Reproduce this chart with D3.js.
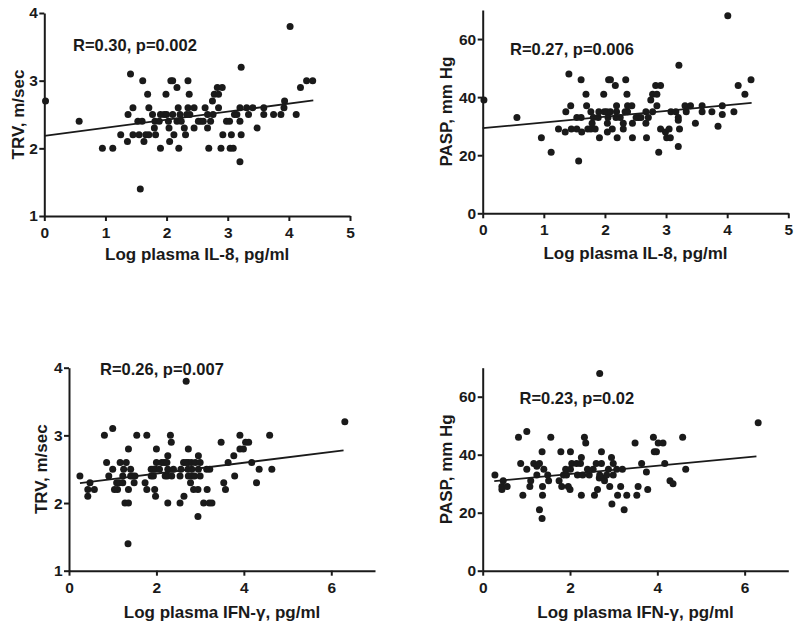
<!DOCTYPE html>
<html>
<head>
<meta charset="utf-8">
<script src="https://cdn.jsdelivr.net/npm/d3@7"></script>
<style>
  html, body { margin: 0; padding: 0; background: #fff; }
  svg { display: block; }
  text { font-family: "Liberation Sans", Arial, Helvetica, sans-serif; font-weight: bold; fill: #1a1a1a; }
</style>
</head>
<body>
<svg id="chart" width="800" height="629"></svg>
<script>
// ---------- data ----------
const il8TRV = [[0.02,2.7],[0.57,2.4],[0.95,2.0],[1.12,2.0],[1.25,2.2],[1.36,2.1],[1.37,2.5],[1.41,3.1],[1.45,2.6],[1.45,2.2],
  [1.53,2.4],[1.55,2.2],[1.57,1.4],[1.6,2.4],[1.61,3.0],[1.63,2.1],[1.66,2.2],[1.69,2.8],[1.71,2.6],[1.71,2.2],
  [1.77,2.5],[1.8,2.3],[1.81,2.4],[1.82,2.2],[1.88,2.4],[1.9,2.5],[1.9,2.0],[1.96,2.5],[1.99,2.8],[2.0,2.5],
  [2.03,2.4],[2.04,2.3],[2.05,2.1],[2.07,3.0],[2.1,3.0],[2.1,2.5],[2.12,2.2],[2.17,2.9],[2.17,2.4],[2.19,2.6],
  [2.2,2.0],[2.22,2.5],[2.24,2.4],[2.29,2.3],[2.31,2.2],[2.33,2.5],[2.35,3.0],[2.35,2.6],[2.37,2.8],[2.38,2.5],
  [2.45,2.6],[2.45,2.3],[2.52,2.4],[2.56,2.4],[2.6,2.4],[2.63,2.6],[2.67,2.3],[2.67,2.5],[2.69,2.0],[2.72,2.4],
  [2.75,2.7],[2.76,2.5],[2.78,2.8],[2.83,2.9],[2.85,2.8],[2.85,2.6],[2.91,2.9],[2.89,2.0],[2.92,2.2],[2.98,2.4],
  [3.03,2.4],[3.04,2.0],[3.06,2.2],[3.09,2.0],[3.11,2.5],[3.15,2.5],[3.2,2.6],[3.2,2.4],[3.22,3.2],[3.22,2.2],
  [3.2,1.8],[3.31,2.6],[3.34,2.5],[3.41,2.6],[3.48,2.3],[3.59,2.6],[3.59,2.5],[3.75,2.5],[3.87,2.5],[3.92,2.6],
  [3.93,2.7],[4.02,3.8],[4.12,2.5],[4.19,2.9],[4.29,3.0],[4.39,3.0]];

const il8PASP = [[0.02,39],[0.56,33],[0.96,26],[1.12,21],[1.24,29],[1.35,28],[1.36,35],[1.41,48],[1.44,37],[1.45,29],
  [1.54,29],[1.54,33],[1.57,18],[1.61,46],[1.61,33],[1.62,28],[1.69,41],[1.7,37],[1.72,29],[1.77,29],
  [1.77,35],[1.79,31],[1.81,33],[1.84,29],[1.89,33],[1.9,35],[1.91,26],[1.98,41],[1.99,35],[2.03,35],
  [2.04,28],[2.04,31],[2.05,33],[2.06,46],[2.09,46],[2.09,35],[2.12,29],[2.17,44],[2.18,33],[2.19,37],
  [2.19,35],[2.2,26],[2.25,33],[2.3,29],[2.3,31],[2.33,35],[2.34,46],[2.36,41],[2.37,37],[2.37,35],
  [2.44,37],[2.45,31],[2.45,26],[2.51,33],[2.55,33],[2.59,33],[2.67,35],[2.67,31],[2.68,26],[2.71,33],
  [2.75,39],[2.78,41],[2.78,35],[2.83,44],[2.85,41],[2.85,37],[2.88,21],[2.91,44],[2.91,29],[2.99,28],
  [3.01,26],[3.05,29],[3.07,26],[3.08,35],[3.16,35],[3.2,33],[3.2,32],[3.21,51],[3.22,29],[3.2,23],
  [3.31,37],[3.33,35],[3.4,37],[3.48,31],[3.59,37],[3.59,35],[3.75,35],[3.85,30],[3.92,37],[3.92,34],
  [4.01,68],[4.11,35],[4.18,44],[4.29,41],[4.39,46]];

const ifnTRV = [[0.25,2.4],[0.43,2.2],[0.43,2.1],[0.48,2.3],[0.58,2.2],[0.81,3.0],[0.86,2.6],[0.91,2.4],[1.0,3.1],[1.0,2.5],
  [1.04,2.2],[1.09,2.3],[1.11,2.2],[1.15,2.3],[1.17,2.6],[1.23,2.4],[1.23,2.3],[1.25,2.5],[1.28,2.0],[1.31,2.6],
  [1.36,2.8],[1.36,2.2],[1.36,2.0],[1.35,1.4],[1.41,2.5],[1.41,2.4],[1.46,2.4],[1.49,2.3],[1.51,2.4],[1.55,3.0],
  [1.74,2.3],[1.78,3.0],[1.78,2.2],[1.88,2.5],[1.88,2.4],[1.93,2.5],[1.93,2.4],[1.96,2.2],[1.98,2.5],[1.98,2.1],
  [2.0,2.8],[2.0,2.6],[2.07,2.5],[2.12,2.6],[2.18,2.6],[2.2,2.4],[2.24,2.6],[2.25,2.4],[2.26,2.7],[2.26,2.5],
  [2.26,2.0],[2.32,3.0],[2.34,2.9],[2.35,2.4],[2.39,2.5],[2.54,2.4],[2.54,2.0],[2.56,2.5],[2.62,2.6],[2.63,2.1],
  [2.68,3.8],[2.68,2.6],[2.72,2.5],[2.73,2.8],[2.73,2.6],[2.73,2.4],[2.78,2.3],[2.8,2.6],[2.81,2.5],[2.81,2.4],
  [2.85,2.2],[2.87,2.4],[2.89,2.6],[2.95,2.2],[2.95,1.8],[2.96,2.7],[2.96,2.5],[3.0,2.6],[3.0,2.4],[3.08,2.0],
  [3.15,2.5],[3.16,2.2],[3.21,2.0],[3.22,2.5],[3.27,2.0],[3.48,2.9],[3.54,2.3],[3.58,2.2],[3.64,2.6],[3.77,2.7],
  [3.79,2.4],[3.91,3.0],[3.91,2.8],[3.99,2.8],[4.04,2.9],[4.11,2.9],[4.18,2.6],[4.29,2.3],[4.35,2.5],[4.59,3.0],
  [4.64,2.5],[6.31,3.2]];

const ifnPASP = [[0.28,33],[0.44,29],[0.44,28],[0.47,31],[0.56,29],[0.82,46],[0.87,37],[0.92,26],[1.01,48],[1.01,35],
  [1.08,29],[1.1,31],[1.17,37],[1.24,36],[1.24,33],[1.3,37],[1.3,21],[1.36,41],[1.37,29],[1.37,26],
  [1.36,18],[1.4,35],[1.49,33],[1.51,31],[1.56,46],[1.75,31],[1.79,41],[1.81,29],[1.85,33],[1.9,35],
  [1.92,33],[1.96,29],[2.0,28],[2.01,41],[2.01,35],[2.04,37],[2.15,37],[2.17,33],[2.24,37],[2.26,39],
  [2.26,26],[2.29,33],[2.33,46],[2.36,44],[2.4,35],[2.44,33],[2.53,35],[2.56,26],[2.6,37],[2.63,28],
  [2.67,32],[2.68,68],[2.68,33],[2.72,41],[2.72,37],[2.78,32],[2.79,31],[2.84,33],[2.88,35],[2.91,29],
  [2.96,23],[2.95,39],[2.99,37],[2.99,33],[3.07,35],[3.09,26],[3.16,29],[3.2,35],[3.24,21],[3.3,26],
  [3.49,44],[3.53,26],[3.56,29],[3.64,37],[3.75,34],[3.78,28],[3.91,46],[3.93,41],[3.98,41],[4.02,44],
  [4.13,44],[4.17,37],[4.29,31],[4.36,30],[4.58,46],[4.65,35],[6.31,51]];

// regression line end points
const fitIL8TRV   = [[0, 2.185], [4.40, 2.708]];
const fitIL8PASP  = [[0, 29.3], [4.40, 38.05]];
const fitIFNTRV   = [[0.25, 2.295], [6.28, 2.778]];
const fitIFNPASP  = [[0.265, 30.9], [6.27, 39.4]];

// ticks and labels
const ticksIL8 = [0, 1, 2, 3, 4, 5];
const ticksIFN = [0, 2, 4, 6];
const ticksTRV = [1, 2, 3, 4];
const ticksPASP = [0, 20, 40, 60];
const titleIL8 = "Log plasma IL-8, pg/ml";
const titleIFN = "Log plasma IFN-\u03b3, pg/ml";
const titleTRV = "TRV, m/sec";
const titlePASP = "PASP, mm Hg";
const statLabels = ["R=0.30, p=0.002", "R=0.27, p=0.006", "R=0.26, p=0.007", "R=0.23, p=0.02"];

// ---------- layout ----------
const panels = [
  { data: il8TRV, fit: fitIL8TRV, xDom: [0, 5], yDom: [1, 4], xTicks: ticksIL8, yTicks: ticksTRV,
    xr: [44.3, 350], yr: [216, 13], xTitle: titleIL8, yTitle: titleTRV, yTitleX: 23.5, xTitleY: 260,
    stat: statLabels[0], statX: 73, statY: 51 },
  { data: il8PASP, fit: fitIL8PASP, xDom: [0, 5], yDom: [0, 70], xTicks: ticksIL8, yTicks: ticksPASP,
    xr: [482.7, 788.3], yr: [213.3, 10], xTitle: titleIL8, yTitle: titlePASP, yTitleX: 452, xTitleY: 259,
    stat: statLabels[1], statX: 510, statY: 54.5 },
  { data: ifnTRV, fit: fitIFNTRV, xDom: [0, 7], yDom: [1, 4], xTicks: ticksIFN, yTicks: ticksTRV,
    xr: [69, 375], yr: [570.7, 367.7], xTitle: titleIFN, yTitle: titleTRV, yTitleX: 46.5, xTitleY: 618,
    stat: statLabels[2], statX: 100, statY: 375 },
  { data: ifnPASP, fit: fitIFNPASP, xDom: [0, 7], yDom: [0, 70], xTicks: ticksIFN, yTicks: ticksPASP,
    xr: [482.7, 788.3], yr: [570.7, 367.7], xTitle: titleIFN, yTitle: titlePASP, yTitleX: 452, xTitleY: 618,
    stat: statLabels[3], statX: 519.5, statY: 404 }
];

const svg = d3.select("#chart");

panels.forEach(p => {
  const x = d3.scaleLinear().domain(p.xDom).range(p.xr);
  const y = d3.scaleLinear().domain(p.yDom).range(p.yr);
  const g = svg.append("g");

  // axes
  const xAxis = d3.axisBottom(x).tickValues(p.xTicks).tickFormat(d3.format("d"))
    .tickSize(5).tickSizeOuter(0).tickPadding(6);
  const yAxis = d3.axisLeft(y).tickValues(p.yTicks).tickFormat(d3.format("d"))
    .tickSize(5).tickSizeOuter(0).tickPadding(1.5);

  const gx = g.append("g").attr("transform", `translate(0,${p.yr[0]})`).call(xAxis);
  const gy = g.append("g").attr("transform", `translate(${p.xr[0]},0)`).call(yAxis);
  [gx, gy].forEach(a => {
    a.select(".domain").attr("stroke", "#1a1a1a").attr("stroke-width", 2);
    a.selectAll(".tick line").attr("stroke", "#1a1a1a").attr("stroke-width", 2);
    a.selectAll(".tick text").attr("font-size", 15.5).attr("font-weight", "bold")
      .attr("font-family", "'Liberation Sans', Arial, sans-serif").attr("fill", "#1a1a1a");
  });

  // points
  g.append("g").selectAll("circle").data(p.data).join("circle")
    .attr("cx", d => x(d[0])).attr("cy", d => y(d[1])).attr("r", 3.5)
    .attr("fill", "#1a1a1a");

  // regression line
  g.append("path").datum(p.fit)
    .attr("d", d3.line().x(d => x(d[0])).y(d => y(d[1])))
    .attr("stroke", "#1a1a1a").attr("stroke-width", 1.8).attr("fill", "none");

  // titles
  g.append("text").attr("x", (p.xr[0] + p.xr[1]) / 2).attr("y", p.xTitleY)
    .attr("text-anchor", "middle").attr("font-size", 17).text(p.xTitle);
  const yc = (p.yr[0] + p.yr[1]) / 2;
  g.append("text").attr("transform", `translate(${p.yTitleX},${yc}) rotate(-90)`)
    .attr("text-anchor", "middle").attr("font-size", 17).text(p.yTitle);

  // statistic annotation
  g.append("text").attr("x", p.statX).attr("y", p.statY)
    .attr("font-size", 16.5).text(p.stat);
});
</script>
</body>
</html>
